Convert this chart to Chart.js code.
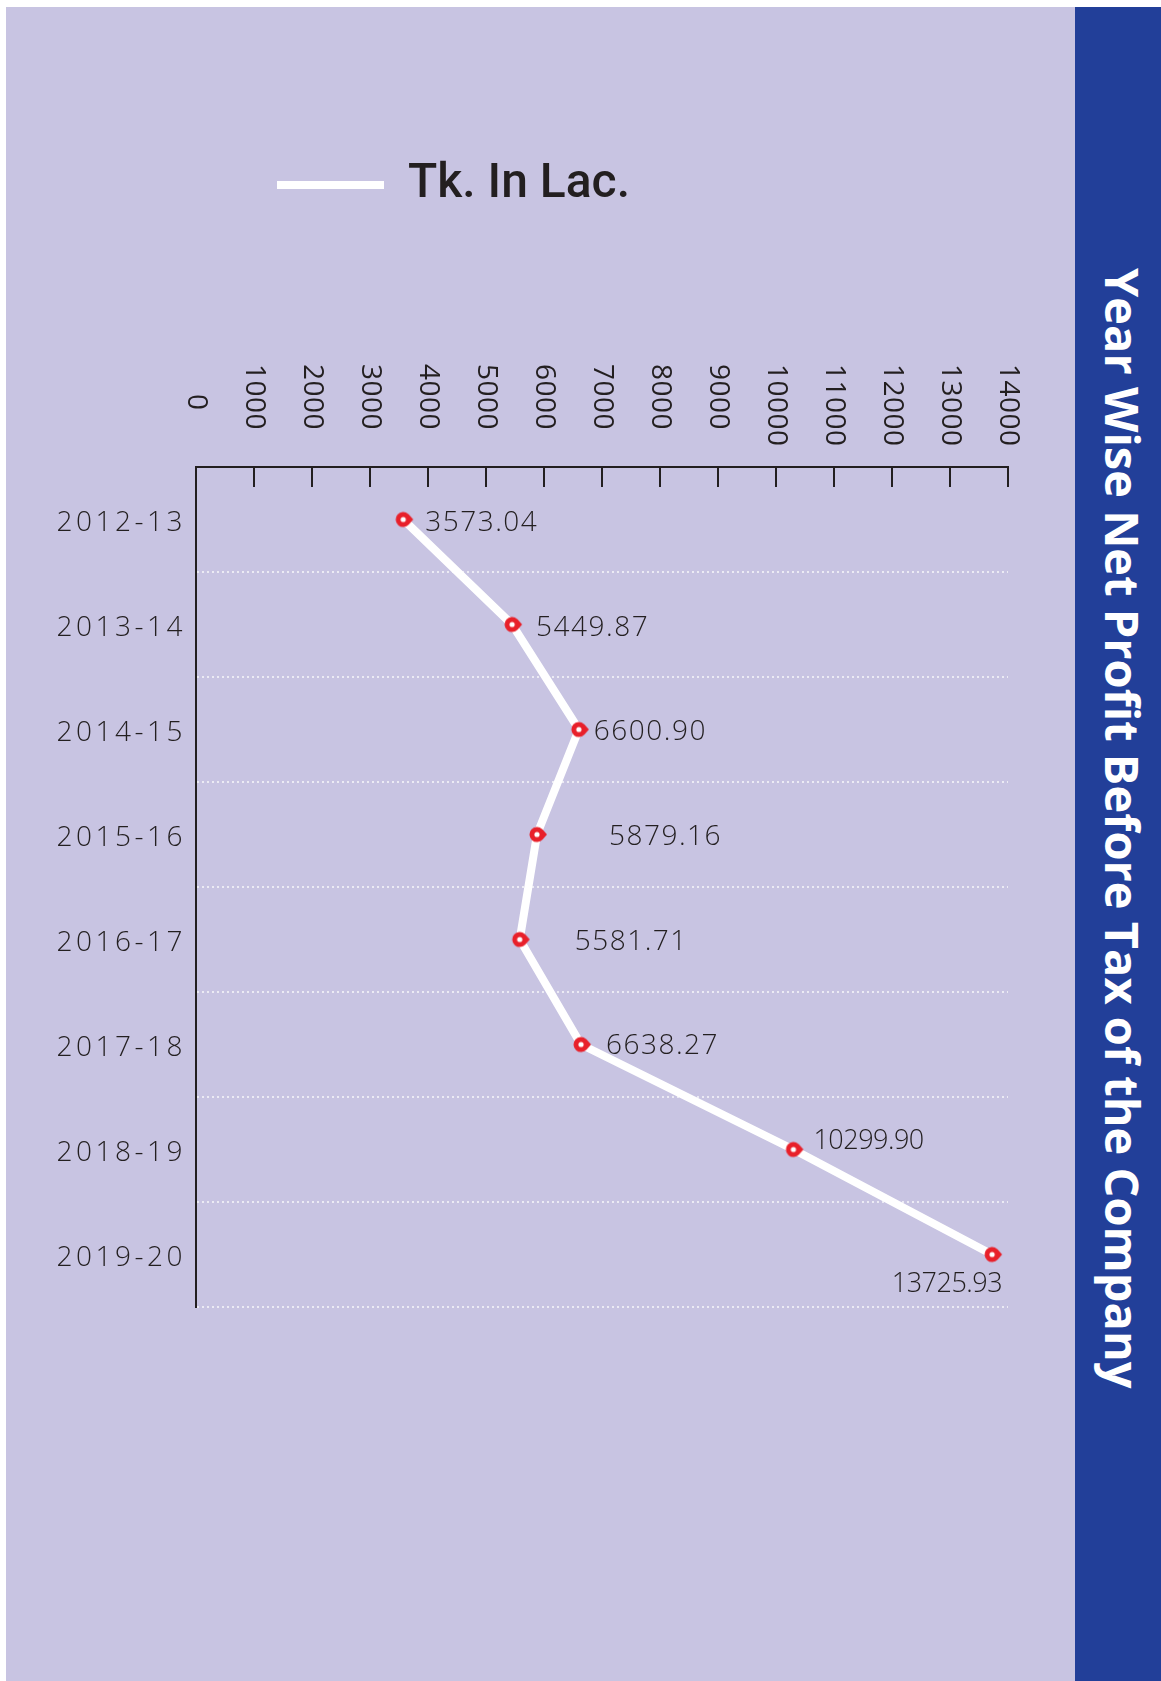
<!DOCTYPE html>
<html>
<head>
<meta charset="utf-8">
<script src="https://cdn.jsdelivr.net/npm/chart.js@4.4.1/dist/chart.umd.min.js"></script>
<style>
    html, body { margin: 0; padding: 0; background: #fff; }
    #page { position: relative; width: 1161px; height: 1681px; overflow: hidden; background: #fff; }
    .panel { position: absolute; left: 6px; top: 7px; width: 1069px; height: 1674px; background: #c8c4e2; }
    .band {
        position: absolute; left: 1075px; top: 7px; width: 86px; height: 1674px;
        background: #223f99; box-sizing: border-box; padding: 0 0 32px 10px;
        display: flex; align-items: center; justify-content: center;
    }
    .band h1 {
        writing-mode: vertical-rl; margin: 0; white-space: nowrap;
        font: 700 47px "Open Sans", sans-serif; color: #fff;
    }
    #chart { position: absolute; left: 0; top: 0; }
</style>
</head>
<body>
<div id="page">
    <div class="panel"></div>
    <div class="band"><h1>Year Wise Net Profit Before Tax of the Company</h1></div>
    <canvas id="chart" width="1161" height="1681"></canvas>
</div>
<script>
const years = ['2012-13', '2013-14', '2014-15', '2015-16', '2016-17', '2017-18', '2018-19', '2019-20'];
const profit = [3573.04, 5449.87, 6600.90, 5879.16, 5581.71, 6638.27, 10299.90, 13725.93];
const seriesName = 'Tk. In Lac.';
const axisMax = 14000;
const axisStep = 1000;

// where each value label sits next to its marker (dx, dy, align)
const labelPlace = [
    [22, 4, 'left'], [24, 4, 'left'], [15, 3, 'left'], [72, 3, 'left'],
    [55, 3, 'left'], [25, 2, 'left'], [20, -8, 'left'], [10, 30, 'right']
];

const ink = '#231f20';

// red pin marker pointing right, white dot in the middle
function makeMarker() {
    const c = document.createElement('canvas');
    c.width = 26;
    c.height = 18;
    const g = c.getContext('2d');
    const a = Math.acos(0.75);
    g.fillStyle = '#e8202a';
    g.beginPath();
    g.arc(13, 9, 7.5, a, Math.PI * 2 - a);
    g.lineTo(23, 9);
    g.closePath();
    g.fill();
    g.fillStyle = '#fff';
    g.beginPath();
    g.arc(13, 9, 2.6, 0, Math.PI * 2);
    g.fill();
    return c;
}

const extras = {
    id: 'extras',
    afterDatasetsDraw(chart) {
        const ctx = chart.ctx;
        const x = chart.scales.x;
        const meta = chart.getDatasetMeta(0);

        // value labels
        ctx.save();
        ctx.fillStyle = ink;
        ctx.textBaseline = 'middle';
        meta.data.forEach((pt, i) => {
            const p = labelPlace[i];
            const big = profit[i] >= 10000;
            ctx.font = big ? '300 27px "Open Sans"' : '300 28px "Open Sans"';
            ctx.letterSpacing = big ? '-0.5px' : '1.5px';
            ctx.textAlign = p[2];
            ctx.fillText(profit[i].toFixed(2), pt.x + p[0], pt.y + p[1]);
        });
        ctx.restore();

        // tick marks hanging into the plot + labels turned clockwise
        ctx.save();
        ctx.strokeStyle = ink;
        ctx.lineWidth = 2;
        ctx.fillStyle = ink;
        ctx.font = '28px "Open Sans"';
        ctx.letterSpacing = '0.5px';
        ctx.textAlign = 'left';
        ctx.textBaseline = 'middle';
        x.ticks.forEach(t => {
            const px = x.getPixelForValue(t.value);
            ctx.beginPath();
            ctx.moveTo(px, x.bottom);
            ctx.lineTo(px, x.bottom + 20);
            ctx.stroke();
            ctx.save();
            ctx.translate(px, t.value === 0 ? 394 : 364);
            ctx.rotate(Math.PI / 2);
            ctx.fillText(t.label, 0, 0);
            ctx.restore();
        });
        ctx.restore();

        // year labels are drawn after this (ticks z:1), spaced out
        ctx.letterSpacing = '3.5px';
    },
    afterDraw(chart) {
        chart.ctx.letterSpacing = '0px';
    }
};

new Chart(document.getElementById('chart'), {
    type: 'line',
    data: {
        labels: years,
        datasets: [{
            label: seriesName,
            data: profit,
            borderColor: '#ffffff',
            backgroundColor: '#ffffff',
            borderWidth: 8,
            borderCapStyle: 'round',
            borderJoinStyle: 'round',
            tension: 0,
            pointStyle: makeMarker(),
            pointRadius: 9,
            clip: false
        }]
    },
    options: {
        indexAxis: 'y',
        responsive: false,
        animation: false,
        layout: { padding: { left: 30, top: 80, right: 153, bottom: 374 } },
        plugins: {
            tooltip: { enabled: false },
            legend: {
                position: 'top',
                align: 'start',
                fullSize: false,
                labels: {
                    usePointStyle: true,
                    pointStyle: 'line',
                    pointStyleWidth: 107,
                    padding: 81,
                    color: ink,
                    font: { family: 'Roboto', size: 48, weight: 500 }
                }
            }
        },
        scales: {
            x: {
                type: 'linear',
                position: 'top',
                min: 0,
                max: axisMax,
                ticks: { display: false, stepSize: axisStep, callback: v => String(v) },
                grid: { display: false },
                border: { display: true, color: ink, width: 2 },
                afterFit: s => { s.height = 248; }
            },
            y: {
                type: 'category',
                position: 'left',
                offset: true,
                grid: { offset: true, color: '#ecebf4', lineWidth: 2, drawTicks: false },
                border: { display: true, color: ink, width: 2, dash: [2, 3] },
                ticks: {
                    z: 1,
                    padding: 10,
                    labelOffset: 4,
                    color: ink,
                    font: { family: 'Open Sans', size: 28, weight: 300 }
                },
                afterFit: s => { s.width = 166; }
            }
        }
    },
    plugins: [extras]
});
</script>
</body>
</html>
